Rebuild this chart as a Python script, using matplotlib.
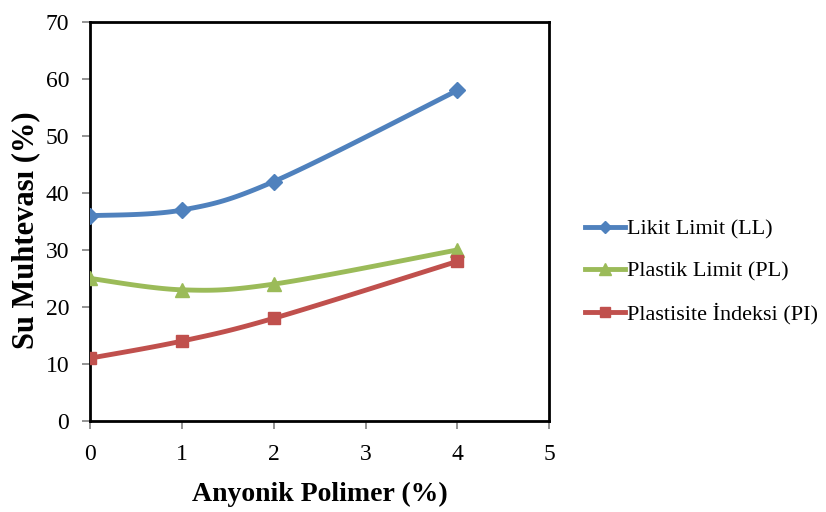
import numpy as np
import matplotlib.pyplot as plt

x = [0, 1, 2, 4]
ll = [36, 37, 42, 58]
pl = [25, 23, 24, 30]
pi = [11, 14, 18, 28]

plt.rcParams['font.family'] = ['Liberation Serif', 'DejaVu Serif']


def smooth(xs, ys, n=40):
    # Excel-like smoothed line: cardinal spline drawn as cubic Bezier segments
    xs = np.asarray(xs, float)
    ys = np.asarray(ys, float)
    px, py = [], []
    k = len(xs)
    for i in range(k - 1):
        i0 = max(i - 1, 0)
        i3 = min(i + 2, k - 1)
        p0 = np.array([xs[i], ys[i]])
        p3 = np.array([xs[i + 1], ys[i + 1]])
        p1 = p0 + (np.array([xs[i + 1], ys[i + 1]]) - np.array([xs[i0], ys[i0]])) / 6
        p2 = p3 - (np.array([xs[i3], ys[i3]]) - np.array([xs[i], ys[i]])) / 6
        t = np.linspace(0, 1, n)[:, None]
        seg = ((1 - t) ** 3) * p0 + 3 * ((1 - t) ** 2) * t * p1 + 3 * (1 - t) * t ** 2 * p2 + t ** 3 * p3
        px.extend(seg[:, 0])
        py.extend(seg[:, 1])
    return px, py


fig = plt.figure(figsize=(8.26, 5.12), dpi=100)
ax = fig.add_axes([0.109, 0.178, 0.556, 0.779])

series = [
    (ll, '#4F81BD', 'D', 8, 'Likit Limit (LL)'),
    (pl, '#9BBB59', '^', 10, 'Plastik Limit (PL)'),
    (pi, '#C0504D', 's', 9, 'Plastisite İndeksi (PI)'),
]
for ys, c, m, ms, lab in series:
    sx, sy = smooth(x, ys)
    ax.plot(sx, sy, color=c, lw=3.5, zorder=2)
    ax.plot(x, ys, linestyle='none', marker=m, ms=ms, color=c, zorder=3)
    ax.plot([], [], color=c, lw=3.5, marker=m, ms=ms * 0.8, label=lab)

ax.set_xlim(0, 5)
ax.set_ylim(0, 70)
ax.set_xticks(range(0, 6))
ax.set_yticks(range(0, 71, 10))
for s in ax.spines.values():
    s.set_linewidth(2)
    s.set_color('black')
ax.tick_params(direction='out', length=6, width=1.2, color='#808080', labelsize=17)
ax.tick_params(axis='x', pad=11)
ax.tick_params(axis='y', pad=9)

ax.set_xlabel('Anyonik Polimer (%)', fontsize=20, fontweight='bold', labelpad=12)
ax.set_ylabel('Su Muhtevası (%)', fontsize=22, fontweight='bold')
ax.yaxis.set_label_coords(-0.108, 0.479)

fig.legend(loc='center left', bbox_to_anchor=(0.684, 0.469), frameon=False,
           fontsize=16, handlelength=1.8, handletextpad=0.1, labelspacing=0.95)

fig.savefig('out.png', dpi=100)
